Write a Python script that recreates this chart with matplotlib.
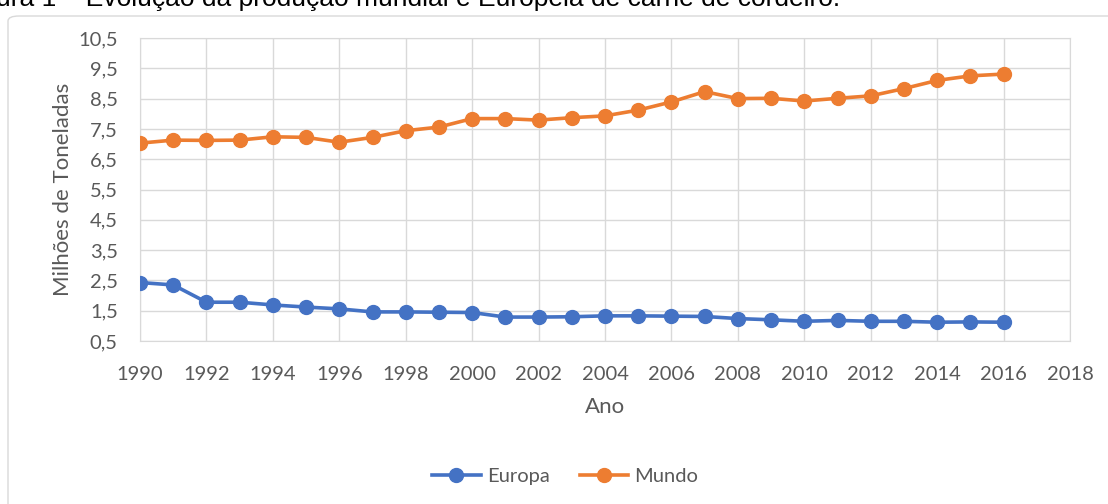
import matplotlib
matplotlib.use("Agg")
import matplotlib.pyplot as plt
from matplotlib.patches import FancyBboxPatch

# Data
anos = list(range(1990, 2017))
europa = [2.43, 2.35, 1.78, 1.78, 1.69, 1.62, 1.56, 1.46, 1.46, 1.45, 1.44,
          1.29, 1.29, 1.30, 1.33, 1.33, 1.32, 1.31, 1.24, 1.20, 1.15, 1.18,
          1.15, 1.15, 1.12, 1.13, 1.12]
mundo = [7.03, 7.13, 7.12, 7.13, 7.24, 7.22, 7.06, 7.22, 7.44, 7.56, 7.84,
         7.84, 7.79, 7.87, 7.93, 8.12, 8.39, 8.73, 8.50, 8.51, 8.42, 8.51,
         8.59, 8.83, 9.10, 9.25, 9.31]
x_ticks = list(range(1990, 2019, 2))
y_ticks = [0.5 + i for i in range(11)]

plt.rcParams["font.family"] = ["Lato", "DejaVu Sans"]
TXT = "#595959"
GRID = "#D9D9D9"

fig = plt.figure(figsize=(11.08, 5.04), dpi=100)
ax = fig.add_axes([140 / 1108, 1 - 341 / 504, 930 / 1108, 303 / 504])

# outer chart frame
frame = FancyBboxPatch((8 / 1108, -0.05), 1.2, 1 - 16 / 504 + 0.05,
                       boxstyle="round,pad=0,rounding_size=0.01",
                       transform=fig.transFigure, fill=False,
                       edgecolor="#D9D9D9", linewidth=1.0, zorder=0)
fig.patches.append(frame)

# caption, cut off at the top edge as in the source image
fig.text(-4 / 1108, 1 - 6 / 504,
         "ura 1 – Evolução da produção mundial e Europeia de carne de cordeiro.",
         fontsize=19, color="black", ha="left", va="baseline",
         family=["Liberation Sans", "DejaVu Sans"])

ax.plot(anos, europa, color="#4472C4", lw=2.6, marker="o", ms=10,
        label="Europa", zorder=3)
ax.plot(anos, mundo, color="#ED7D31", lw=2.6, marker="o", ms=10,
        label="Mundo", zorder=3)

ax.set_xlim(1990, 2018)
ax.set_ylim(0.5, 10.5)
ax.set_xticks(x_ticks)
ax.set_yticks(y_ticks)
ax.set_yticklabels([f"{v:.1f}".replace(".", ",") for v in y_ticks])
ax.tick_params(length=0, labelsize=14.5, colors=TXT)
ax.tick_params(axis="x", pad=18)
ax.tick_params(axis="y", pad=16)
ax.grid(True, color=GRID, lw=1)
for s in ax.spines.values():
    s.set_color(GRID)

ax.set_xlabel("Ano", fontsize=16, color=TXT, labelpad=10)
ax.set_ylabel("Milhões de Toneladas", fontsize=16, color=TXT, labelpad=4)

fig.legend(loc="center", bbox_to_anchor=(0.51, 1 - 476 / 504), ncol=2,
           frameon=False, fontsize=14.5, labelcolor=TXT, handlelength=2.4,
           columnspacing=1.5, handletextpad=0.3)

fig.savefig("out.png", dpi=100)
